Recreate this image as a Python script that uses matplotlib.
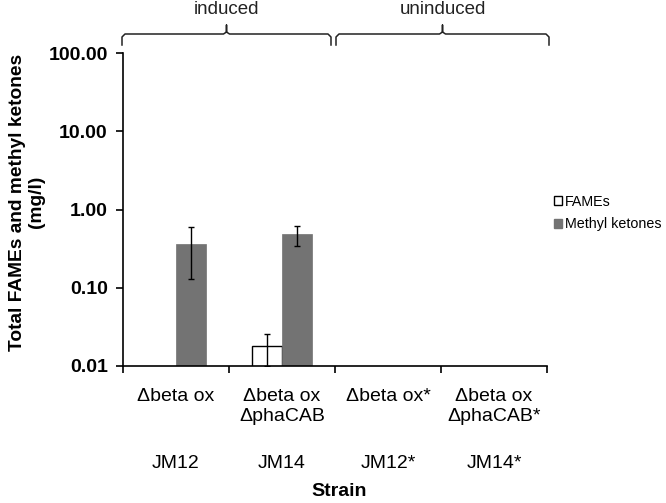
import matplotlib
matplotlib.use("Agg")
import matplotlib.pyplot as plt
import numpy as np
from matplotlib.lines import Line2D
from matplotlib.patches import Patch

plt.rcParams['font.family'] = ['Liberation Sans', 'DejaVu Sans']

strain_names = ["\u0394beta ox", "\u0394beta ox\n\u0394phaCAB", "\u0394beta ox*", "\u0394beta ox\n\u0394phaCAB*"]
strain_ids = ["JM12", "JM14", "JM12*", "JM14*"]
fames = [np.nan, 0.018, np.nan, np.nan]
fames_err = [np.nan, 0.008, np.nan, np.nan]
mk = [0.36, 0.48, np.nan, np.nan]
mk_err = [0.23, 0.14, np.nan, np.nan]
groups = ["induced", "uninduced"]
yticks = [0.01, 0.1, 1, 10, 100]
ytick_labels = ["0.01", "0.10", "1.00", "10.00", "100.00"]

W, H = 666, 503
fig = plt.figure(figsize=(W / 100, H / 100), dpi=100)
ax = fig.add_axes([123 / W, 1 - 366 / H, 424 / W, 313 / H])

x = np.arange(len(strain_names))
bw = 0.283
grey = "#737373"
ax.bar(x - bw / 2, fames, bw, color="white", edgecolor="black", linewidth=1.0,
       yerr=fames_err, error_kw=dict(ecolor="black", elinewidth=1.0, capsize=2.5, capthick=1.0))
ax.bar(x + bw / 2, mk, bw, color=grey, edgecolor=grey, linewidth=0.5,
       yerr=mk_err, error_kw=dict(ecolor="black", elinewidth=1.0, capsize=2.5, capthick=1.0))

ax.set_yscale("log")
ax.set_ylim(0.01, 100)
ax.set_yticks(yticks)
ax.set_yticklabels(ytick_labels, fontsize=14, fontweight="bold")
ax.yaxis.set_minor_locator(matplotlib.ticker.NullLocator())
ax.set_xlim(-0.5, 3.5)
ax.set_xticks(np.arange(-0.5, 4, 1))
ax.set_xticklabels([])
ax.tick_params(axis="both", direction="out", length=5, width=1.2, color="black")
ax.tick_params(axis="y", pad=6)
for s in ["top", "right"]:
    ax.spines[s].set_visible(False)
for s in ["left", "bottom"]:
    ax.spines[s].set_linewidth(1.2)

for i, (nm, sid) in enumerate(zip(strain_names, strain_ids)):
    ax.text(i, -0.07, nm, transform=ax.get_xaxis_transform(), ha="center", va="top",
            fontsize=14, linespacing=1.2)
    ax.text(i, -0.31, sid, transform=ax.get_xaxis_transform(), ha="center", va="center",
            fontsize=14)
fig.text(339 / W, 1 - 492 / H, "Strain", ha="center", va="center", fontsize=14, fontweight="bold")
fig.text(27 / W, 1 - 202 / H, "Total FAMEs and methyl ketones\n(mg/l)", ha="center", va="center",
         rotation=90, fontsize=13.8, fontweight="bold", linespacing=1.2)

leg = ax.legend(handles=[Patch(facecolor="white", edgecolor="black", label="FAMEs"),
                         Patch(facecolor=grey, edgecolor=grey, label="Methyl ketones")],
                loc="center left", bbox_to_anchor=(547 / W, 1 - 213 / H), bbox_transform=fig.transFigure,
                frameon=False, fontsize=10.3, handlelength=0.55, handleheight=0.55, handletextpad=0.2,
                labelspacing=0.6, borderpad=0)

def brace(x0, x1, label):
    xc = (x0 + x1) / 2
    yb, ym, yt = 45, 34, 25
    px = [x0, x0, x0 + 3, xc - 3, xc, xc, xc, xc + 3, x1 - 3, x1, x1]
    py = [yb, ym + 3, ym, ym, ym - 2, yt, ym - 2, ym, ym, ym + 3, yb]
    fig.add_artist(Line2D([p / W for p in px], [1 - q / H for q in py], color="#222222", lw=1.1,
                          transform=fig.transFigure))
    fig.text(xc / W, 1 - 9 / H, label, ha="center", va="center", fontsize=13.5, color="#222222")

brace(122, 331, groups[0])
brace(336, 549, groups[1])

fig.savefig("out.png", dpi=100)
